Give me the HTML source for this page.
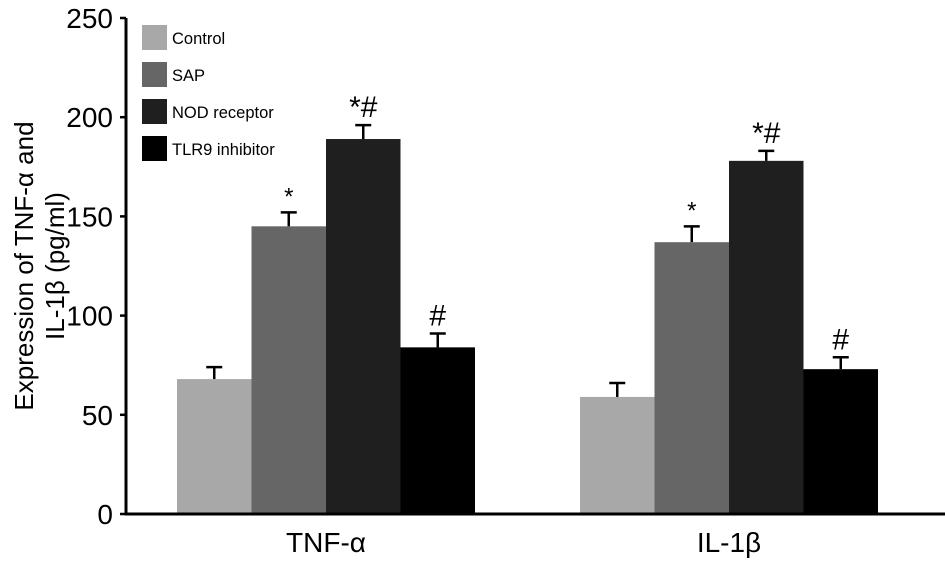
<!DOCTYPE html>
<html><head><meta charset="utf-8"><style>
html,body{margin:0;padding:0;background:#fff;}
svg{display:block;font-family:"Liberation Sans",sans-serif;}
</style></head><body>
<svg id="chart" width="945" height="566" viewBox="0 0 945 566"></svg>
<script>
const categories = ["TNF-α", "IL-1β"];
const seriesNames = ["Control", "SAP", "NOD receptor", "TLR9 inhibitor"];
const controlValues = [68, 59];
const sapValues = [145, 137];
const nodValues = [189, 178];
const tlr9Values = [84, 73];
const controlErr = [6, 7];
const sapErr = [7, 8];
const nodErr = [7, 5];
const tlr9Err = [7, 6];
const annotations = [["", "*", "*#", "#"], ["", "*", "*#", "#"]];
const yTicks = [0, 50, 100, 150, 200, 250];

const colors = ["#a8a8a8", "#666666", "#1f1f1f", "#000000"];
const values = [controlValues, sapValues, nodValues, tlr9Values];
const errs = [controlErr, sapErr, nodErr, tlr9Err];
const svg = document.getElementById('chart');
const NS = "http://www.w3.org/2000/svg";
const y0 = 514, yTop = 18, yMax = 250;
const y = v => y0 - (v / yMax) * (y0 - yTop);
const groupStart = [177, 580], barW = 74.5;
const x = (g, s) => groupStart[g] + s * barW;
function mk(tag, attrs, text) {
  const e = document.createElementNS(NS, tag);
  for (const k in attrs) e.setAttribute(k, attrs[k]);
  if (text !== undefined) e.textContent = text;
  svg.appendChild(e);
  return e;
}
for (let g = 0; g < categories.length; g++) {
  for (let s = 0; s < seriesNames.length; s++) {
    const v = values[s][g], e = errs[s][g];
    const cx = x(g, s) + barW / 2;
    const eb = mk('path', {d: `M${cx},${y(v)}V${y(v + e)}M${cx - 8},${y(v + e)}H${cx + 8}`, stroke: '#000', 'stroke-width': 2.5, fill: 'none'});
    
    
    const r = mk('rect', {x: x(g, s), y: y(v), width: barW, height: y0 - y(v), fill: colors[s]});
    
    
    const a = annotations[g][s];
    if (a) {
      const t = mk('text', {x: cx, y: y(v + e) - 8, 'text-anchor': 'middle', 'font-size': a === '*' ? 24 : 30}, a);
      
      
    }
  }
  const cl = mk('text', {x: (x(g, 0) + x(g, 4)) / 2, y: 552, 'text-anchor': 'middle', 'font-size': 28}, categories[g]);
  
  
}
const ax = mk('path', {d: `M126,${yTop}V${y0}H945`, stroke: '#000', 'stroke-width': 3, fill: 'none'});


for (const t of yTicks) {
  const tk = mk('line', {x1: 120, x2: 126, y1: y(t), y2: y(t), stroke: '#000', 'stroke-width': 2.5});
  
  
  const tl = mk('text', {x: 113, y: y(t) + 10, 'text-anchor': 'end', 'font-size': 28}, t);
  
  
}
const yt = mk('text', {transform: 'translate(33,266) rotate(-90)', 'text-anchor': 'middle', 'font-size': 26});


const t1 = document.createElementNS(NS, 'tspan'); t1.setAttribute('x', 0); t1.setAttribute('y', 0); t1.textContent = 'Expression of TNF-α and'; yt.appendChild(t1);
const t2 = document.createElementNS(NS, 'tspan'); t2.setAttribute('x', 0); t2.setAttribute('y', 31); t2.textContent = 'IL-1β (pg/ml)'; yt.appendChild(t2);
for (let s = 0; s < seriesNames.length; s++) {
  const ly = 25 + s * 37;
  const sw = mk('rect', {x: 142, y: ly, width: 25, height: 25, fill: colors[s]});
  
  
  const lt = mk('text', {x: 172, y: ly + 19, 'font-size': 16.5}, seriesNames[s]);
  
  
}
</script>
</body></html>
